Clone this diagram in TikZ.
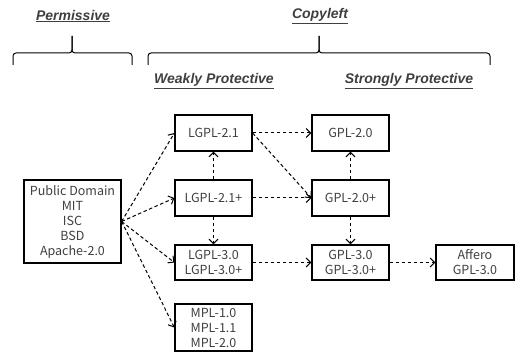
\documentclass[tikz,border=0pt]{standalone}
\usepackage{fontspec}
\setmainfont{Liberation Sans}
\newfontfamily\boxfont{Noto Sans CJK JP}
\usetikzlibrary{arrows.meta}

\definecolor{inkgray}{HTML}{3F3F3F}

\tikzset{
	lic/.style={draw=black,line width=1.2pt,text=inkgray,align=center,inner sep=2pt,
		minimum width=77pt,minimum height=36pt,font=\boxfont\fontsize{12.5}{15}\selectfont},
	link/.style={line width=1pt,dash pattern=on 3.5pt off 2.5pt,-{Straight Barb[length=4.5pt,width=9pt]}},
	head/.style={text=inkgray,font=\fontsize{14}{16}\selectfont\bfseries\itshape},
	bracket/.style={line width=1pt,rounded corners=3pt}
}

\begin{document}
\begin{tikzpicture}[x=1pt,y=-1pt]
	\useasboundingbox (0,0) rectangle (515,353);

	% headings
	\node[head] (perm) at (73,16) {\underline{Permissive}};
	\node[head] (copy) at (320,16) {\underline{Copyleft}};
	\node[head] (weak) at (214,81) {\underline{Weakly Protective}};
	\node[head] (strong) at (409,81) {\underline{Strongly Protective}};

	% braces
	\draw[bracket] (13,65) -- (13,53) -- (72,53) -- (72,36);
	\draw[bracket] (132,65) -- (132,53) -- (72,53) -- (72,36);
	\draw[bracket] (148,65) -- (148,53) -- (319,53) -- (319,36);
	\draw[bracket] (490,65) -- (490,53) -- (319,53) -- (319,36);

	% licences
	\node[lic,minimum width=97pt,minimum height=83pt] (pd) at (72.5,221.5) {Public Domain\\MIT\\ISC\\BSD\\Apache-2.0};
	\node[lic] (lgpla) at (213.5,133) {LGPL-2.1};
	\node[lic] (lgplb) at (213.5,198) {LGPL-2.1+};
	\node[lic,minimum height=35pt] (lgplc) at (213.5,262.5) {LGPL-3.0\\LGPL-3.0+};
	\node[lic,minimum height=47pt] (mpl) at (213.5,327.5) {MPL-1.0\\MPL-1.1\\MPL-2.0};
	\node[lic] (gpla) at (350.5,133) {GPL-2.0};
	\node[lic] (gplb) at (350.5,198) {GPL-2.0+};
	\node[lic,minimum height=35pt] (gplc) at (350.5,262.5) {GPL-3.0\\GPL-3.0+};
	\node[lic,minimum width=78pt,minimum height=35pt] (agpl) at (475,262.5) {Affero\\GPL-3.0};

	% compatibility
	\draw[link] (pd.east) -- (lgpla.west);
	\draw[link] (pd.east) -- (lgplb.west);
	\draw[link] (pd.east) -- (lgplc.west);
	\draw[link] (pd.east) -- (mpl.west);
	\draw[link] (lgplb) -- (lgpla);
	\draw[link] (lgplb) -- (lgplc);
	\draw[link] (lgpla) -- (gpla);
	\draw[link] (lgpla.east) -- (gplb.west);
	\draw[link] (lgplb) -- (gplb);
	\draw[link] (gplb) -- (gpla);
	\draw[link] (gplb) -- (gplc);
	\draw[link] (lgplc) -- (gplc);
	\draw[link] (gplc) -- (agpl);
\end{tikzpicture}
\end{document}
